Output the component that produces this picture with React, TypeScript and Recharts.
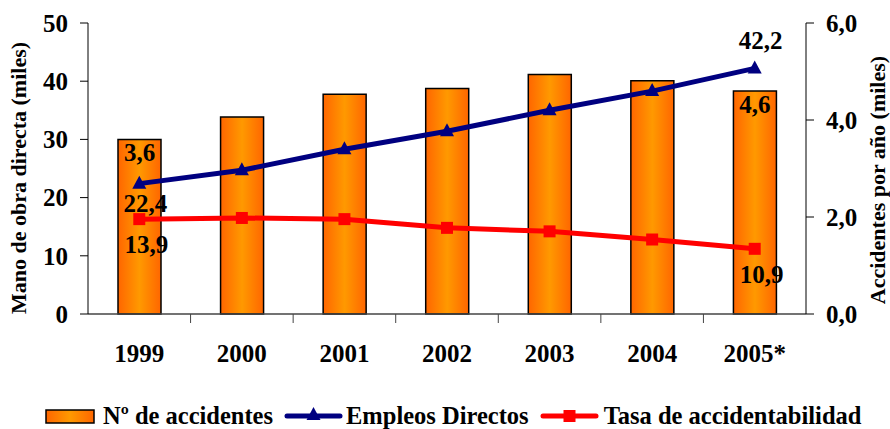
import { ComposedChart, Bar, Line, XAxis, YAxis, Legend, LabelList } from 'recharts';

const years = ['1999', '2000', '2001', '2002', '2003', '2004', '2005*'];
const accidentes = [3.6, 4.06, 4.53, 4.65, 4.94, 4.81, 4.6];
const empleos = [22.4, 24.7, 28.3, 31.4, 35.0, 38.3, 42.2];
const tasa = [16.3, 16.5, 16.3, 14.8, 14.2, 12.8, 11.2];
const tasaLabels = ['13,9', '', '', '', '', '', '10,9'];
const leftTicks = [0, 10, 20, 30, 40, 50];
const rightTicks = [0, 2, 4, 6];

const data = years.map((year, i) => ({
  year,
  accidentes: accidentes[i],
  empleos: empleos[i],
  tasa: tasa[i],
}));

const W = 890;
const H = 429;
const LEFT_W = 88;
const RIGHT_W = 84;
const BAND = (W - LEFT_W - RIGHT_W) / years.length;
const FONT = 'Liberation Serif';
const last = years.length - 1;

const comma = (v: number) => v.toFixed(1).replace('.', ',');

function YearTick({ x, y, payload, index }: any) {
  return (
    <g>
      {index < last && (
        <line x1={x + BAND / 2} x2={x + BAND / 2} y1={y} y2={y + 9} stroke="#444" strokeWidth={1} />
      )}
      <text x={x} y={y + 48} textAnchor="middle" style={{ fontFamily: FONT }} fontWeight="bold" fontSize={25} fill="#000">
        {payload.value}
      </text>
    </g>
  );
}

function edgeLabel(dy: number, dx: number, texts?: string[]) {
  return (props: any) => {
    const { x, y, width, value, index } = props;
    if (index !== 0 && index !== last) return null;
    const cx = (width ? x + width / 2 : x) + dx;
    const txt = texts ? texts[index] : comma(value);
    return (
      <text x={cx} y={y + dy} textAnchor="middle" style={{ fontFamily: FONT }} fontWeight="bold" fontSize={25} fill="#000">
        {txt}
      </text>
    );
  };
}

function Triangle({ cx, cy }: any) {
  return <path d={`M${cx},${cy - 8} L${cx + 7},${cy + 5} L${cx - 7},${cy + 5} Z`} fill="#000080" />;
}

function Square({ cx, cy }: any) {
  return <rect x={cx - 6} y={cy - 6} width={12} height={12} fill="#FF0000" />;
}

function LegendContent() {
  const text = { fontFamily: FONT, fontWeight: 'bold' as const, fontSize: 24.5, color: '#000', lineHeight: '28px', whiteSpace: 'nowrap' as const };
  return (
    <div style={{ display: 'flex', alignItems: 'flex-start', paddingLeft: 45, paddingTop: 0, height: 28 }}>
      <svg width={50} height={28} style={{ marginRight: 8 }}>
        <defs>
          <linearGradient id="legGrad" x1="0" x2="1" y1="0" y2="0">
            <stop offset="0%" stopColor="#FF6600" />
            <stop offset="50%" stopColor="#FF9900" />
            <stop offset="100%" stopColor="#FF6600" />
          </linearGradient>
        </defs>
        <rect x={1} y={8} width={48} height={13} fill="url(#legGrad)" stroke="#000" strokeWidth={1.5} />
      </svg>
      <span style={text}>Nº de accidentes</span>
      <svg width={59} height={28} style={{ marginLeft: 11, marginRight: 3 }}>
        <line x1={3} x2={56} y1={14} y2={14} stroke="#000080" strokeWidth={5} strokeLinecap="round" />
        <Triangle cx={29.5} cy={13} />
      </svg>
      <span style={text}>Empleos Directos</span>
      <svg width={59} height={28} style={{ marginLeft: 11, marginRight: 5 }}>
        <line x1={3} x2={56} y1={14} y2={14} stroke="#FF0000" strokeWidth={5} strokeLinecap="round" />
        <Square cx={29.5} cy={14} />
      </svg>
      <span style={text}>Tasa de accidentabilidad</span>
    </div>
  );
}

const tickStyle = { fontFamily: FONT, fontWeight: 'bold', fontSize: 25, fill: '#000' };

export default function App() {
  return (
    <div style={{ position: 'absolute', left: 0, top: 0, width: W, height: H, background: '#fff', fontFamily: FONT, overflow: 'hidden' }}>
      <ComposedChart width={W} height={H} data={data} margin={{ top: 23, right: 0, bottom: 0, left: 0 }}>
        <defs>
          <linearGradient id="barGrad" x1="0" x2="1" y1="0" y2="0">
            <stop offset="0%" stopColor="#FF6600" />
            <stop offset="50%" stopColor="#FF9900" />
            <stop offset="100%" stopColor="#FF6600" />
          </linearGradient>
        </defs>
        <XAxis
          dataKey="year"
          height={88}
          tick={<YearTick />}
          tickLine={false}
          tickSize={0}
          tickMargin={0}
          axisLine={{ stroke: '#444', strokeWidth: 1.5 }}
          interval={0}
        />
        <YAxis
          yAxisId="left"
          width={LEFT_W}
          domain={[0, 50]}
          ticks={leftTicks}
          interval={0}
          tickSize={8}
          tickMargin={12}
          axisLine={{ stroke: '#000', strokeWidth: 1 }}
          tickLine={{ stroke: '#000' }}
          tick={tickStyle}
          label={{
            content: () => (
              <text x={26} y={178} transform="rotate(-90 26 178)" textAnchor="middle" style={{ fontFamily: FONT }} fontWeight="bold" fontSize={22} fill="#000">
                Mano de obra directa (miles)
              </text>
            ),
          }}
        />
        <YAxis
          yAxisId="right"
          orientation="right"
          width={RIGHT_W}
          domain={[0, 6]}
          ticks={rightTicks}
          interval={0}
          tickSize={8}
          tickMargin={12}
          tickFormatter={comma}
          axisLine={{ stroke: '#000', strokeWidth: 1 }}
          tickLine={{ stroke: '#000' }}
          tick={tickStyle}
          label={{
            content: () => (
              <text x={885} y={180} transform="rotate(-90 885 180)" textAnchor="middle" style={{ fontFamily: FONT }} fontWeight="bold" fontSize={22} fill="#000">
                Accidentes por año (miles)
              </text>
            ),
          }}
        />
        <Legend verticalAlign="bottom" height={27} content={<LegendContent />} />
        <Bar
          yAxisId="right"
          dataKey="accidentes"
          name="Nº de accidentes"
          barSize={43}
          fill="url(#barGrad)"
          stroke="#000"
          strokeWidth={1.5}
          isAnimationActive={false}
        >
          <LabelList dataKey="accidentes" content={edgeLabel(22, 0)} />
        </Bar>
        <Line
          yAxisId="left"
          dataKey="empleos"
          name="Empleos Directos"
          stroke="#000080"
          strokeWidth={5}
          dot={<Triangle />}
          activeDot={false}
          isAnimationActive={false}
        >
          <LabelList dataKey="empleos" content={(p: any) => edgeLabel(p.index === 0 ? 28 : -19, 6)(p)} />
        </Line>
        <Line
          yAxisId="left"
          dataKey="tasa"
          name="Tasa de accidentabilidad"
          stroke="#FF0000"
          strokeWidth={5}
          dot={<Square />}
          activeDot={false}
          isAnimationActive={false}
        >
          <LabelList dataKey="tasa" content={edgeLabel(34, 7, tasaLabels)} />
        </Line>
      </ComposedChart>
    </div>
  );
}
